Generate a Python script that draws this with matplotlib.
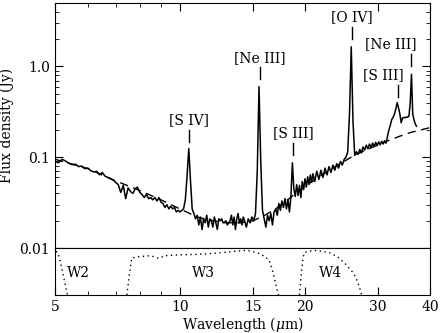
import numpy as np
import matplotlib
matplotlib.use('Agg')
from matplotlib import pyplot as plt
from matplotlib.ticker import FixedLocator, FixedFormatter, NullFormatter

plt.rcParams['font.family'] = 'DejaVu Serif'
plt.rcParams['mathtext.fontset'] = 'dejavuserif'
plt.rcParams['font.size'] = 10

# short-low part of the spectrum (um, Jy)
wave_sl = [5.0, 5.1, 5.2, 5.3, 5.4, 5.5, 5.6, 5.7, 5.8, 5.9,
           6.0, 6.1, 6.2, 6.3, 6.4, 6.5, 6.6, 6.7, 6.8, 6.9,
           7.0, 7.1, 7.2, 7.3, 7.4, 7.5, 7.6, 7.7, 7.8, 7.9,
           8.0, 8.1, 8.2, 8.3, 8.4, 8.5, 8.6, 8.7, 8.8, 8.9,
           9.0, 9.1, 9.2, 9.3, 9.4, 9.5, 9.6, 9.7, 9.8, 9.9,
           10.0, 10.1, 10.2, 10.3, 10.4, 10.5, 10.6, 10.7, 10.8, 10.9,
           11.0, 11.1, 11.2, 11.3, 11.4, 11.5, 11.6, 11.7, 11.8, 11.9,
           12.0, 12.1, 12.2, 12.3, 12.4, 12.5, 12.6, 12.7, 12.8, 12.9,
           13.0, 13.1, 13.2, 13.3, 13.4, 13.5, 13.6, 13.7, 13.8, 13.9,
           14.0, 14.1, 14.2]
flux_sl = [0.090, 0.087, 0.095, 0.091, 0.086, 0.083, 0.084, 0.079, 0.080, 0.075,
           0.076, 0.071, 0.069, 0.070, 0.064, 0.068, 0.062, 0.060, 0.058, 0.056,
           0.053, 0.050, 0.041, 0.049, 0.035, 0.046, 0.042, 0.040, 0.045, 0.047,
           0.041, 0.039, 0.036, 0.039, 0.035, 0.036, 0.034, 0.036, 0.033, 0.036,
           0.032, 0.031, 0.028, 0.030, 0.027, 0.029, 0.027, 0.028, 0.025, 0.026,
           0.025, 0.026, 0.027, 0.034, 0.062, 0.125, 0.055, 0.027, 0.024, 0.021,
           0.023, 0.018, 0.022, 0.016, 0.021, 0.019, 0.023, 0.017, 0.021, 0.020,
           0.017, 0.022, 0.019, 0.016, 0.021, 0.020, 0.021, 0.019, 0.019, 0.020,
           0.018, 0.019, 0.020, 0.023, 0.018, 0.022, 0.016, 0.021, 0.024, 0.019,
           0.021, 0.018, 0.022]

# long-low part
wave_ll = [14.30, 14.45, 14.60, 14.75, 14.90, 15.05, 15.20, 15.35, 15.50, 15.65,
           15.80, 15.95, 16.10, 16.25, 16.40, 16.55, 16.70, 16.85, 17.00, 17.15,
           17.30, 17.45, 17.60, 17.75, 17.90, 18.05, 18.20, 18.35, 18.50, 18.65,
           18.80, 18.95, 19.10, 19.25, 19.40, 19.55, 19.70, 19.85, 20.00, 20.15,
           20.30, 20.45, 20.60, 20.75, 20.90, 21.10, 21.35, 21.60, 21.85, 22.10,
           22.35, 22.60, 22.85, 23.10, 23.35, 23.60, 23.85, 24.10, 24.35, 24.60,
           24.85, 25.10, 25.35, 25.60, 25.85, 26.10, 26.35, 26.60, 26.85, 27.10,
           27.35, 27.60, 27.85, 28.10, 28.35, 28.60, 28.85, 29.10, 29.35, 29.60,
           29.85, 30.10, 30.35, 30.60, 30.85, 31.10, 31.35, 31.60, 31.85, 32.10,
           32.35, 32.60, 32.85, 33.10, 33.35, 33.60, 33.85, 34.10, 34.35, 34.60,
           34.85, 35.10, 35.35, 35.60, 35.85, 36.10, 36.35, 36.60, 36.85, 37.10]
flux_ll = [0.020, 0.017, 0.021, 0.019, 0.022, 0.020, 0.024, 0.070, 0.600, 0.090,
           0.026, 0.021, 0.017, 0.023, 0.020, 0.024, 0.018, 0.025, 0.027, 0.023,
           0.031, 0.026, 0.033, 0.028, 0.035, 0.027, 0.034, 0.025, 0.037, 0.087,
           0.045, 0.037, 0.050, 0.038, 0.049, 0.036, 0.054, 0.044, 0.058, 0.047,
           0.061, 0.050, 0.064, 0.053, 0.066, 0.054, 0.070, 0.057, 0.072, 0.060,
           0.076, 0.064, 0.079, 0.068, 0.082, 0.072, 0.085, 0.076, 0.090, 0.082,
           0.095, 0.100, 0.115, 0.300, 1.650, 0.250, 0.105, 0.115, 0.108, 0.122,
           0.112, 0.130, 0.120, 0.136, 0.124, 0.140, 0.128, 0.143, 0.131, 0.146,
           0.134, 0.148, 0.137, 0.150, 0.140, 0.152, 0.143, 0.170, 0.200, 0.225,
           0.260, 0.275, 0.300, 0.340, 0.400, 0.350, 0.300, 0.240, 0.270, 0.275,
           0.272, 0.278, 0.276, 0.285, 0.400, 0.820, 0.300, 0.260, 0.235, 0.220]

# continuum fit (dashed)
cont_wave = [5.0, 6.0, 7.0, 8.0, 9.0, 10.0, 11.0, 12.0, 13.0, 14.0, 15.0, 16.0,
             17.0, 18.0, 19.0, 20.0, 22.0, 24.0, 26.0, 28.0, 30.0, 32.0, 34.0,
             36.0, 38.0, 40.0]
cont_flux = [0.095, 0.075, 0.055, 0.043, 0.034, 0.027, 0.022, 0.020, 0.019, 0.019,
             0.020, 0.023, 0.027, 0.033, 0.040, 0.048, 0.064, 0.082, 0.102, 0.120,
             0.137, 0.155, 0.172, 0.188, 0.200, 0.212]

# WISE filter curves (relative response)
w2_wave = [4.9, 5.0, 5.08, 5.15, 5.22, 5.3, 5.36]
w2_resp = [1.0, 0.99, 0.95, 0.75, 0.5, 0.2, 0.0]
w3_wave = [7.45, 7.55, 7.65, 8.0, 8.5, 8.9, 9.2, 10.0, 11.0, 12.0, 13.0, 14.0,
           14.5, 15.0, 15.5, 16.0, 16.4, 16.7, 16.9, 17.1, 17.25]
w3_resp = [0.0, 0.45, 0.83, 0.86, 0.88, 0.82, 0.88, 0.90, 0.91, 0.93, 0.96, 0.99,
           1.0, 0.97, 0.93, 0.86, 0.78, 0.55, 0.35, 0.15, 0.0]
w4_wave = [19.4, 19.6, 19.8, 20.0, 21.0, 22.0, 23.0, 24.0, 25.0, 26.0, 26.5,
           27.0, 27.4]
w4_resp = [0.0, 0.5, 0.85, 0.96, 1.0, 0.98, 0.94, 0.85, 0.7, 0.52, 0.4, 0.2, 0.0]

# line identifications: label, wavelength, tick bottom, tick top, text alignment
line_ids = [('[S IV]', 10.51, 0.148, 0.201, 'center'),
            ('[Ne III]', 15.55, 0.72, 0.975, 'center'),
            ('[S III]', 18.71, 0.106, 0.144, 'center'),
            ('[O IV]', 25.89, 1.99, 2.70, 'center'),
            ('[S III]', 33.48, 0.466, 0.632, 'right'),
            ('[Ne III]', 36.01, 1.0, 1.36, 'right')]

fig = plt.figure(figsize=(4.41, 3.33), dpi=100)
ax = fig.add_axes([0.1247, 0.255, 0.8503, 0.736])
axb = fig.add_axes([0.1247, 0.114, 0.8503, 0.141], sharex=ax)

ax.plot(wave_sl + wave_ll, flux_sl + flux_ll, color='k', lw=1.1)
ax.plot(cont_wave, cont_flux, color='k', lw=1.0, ls='--', dashes=(6, 4))

ax.set_xscale('log')
ax.set_yscale('log')
ax.set_xlim(5, 40)
ax.set_ylim(0.01, 5)
ax.yaxis.set_major_locator(FixedLocator([0.01, 0.1, 1.0]))
ax.yaxis.set_major_formatter(FixedFormatter(['0.01', '0.1', '1.0']))
ax.set_ylabel('Flux density (Jy)')

for lab, lw_, y0, y1, ha in line_ids:
    ax.plot([lw_, lw_], [y0, y1], color='k', lw=1.0)
    if ha == 'right':
        ax.annotate(lab, (lw_, y1), xytext=(4, 2), textcoords='offset points',
                    ha='right', va='bottom')
    else:
        ax.annotate(lab, (lw_, y1), xytext=(0, 2), textcoords='offset points',
                    ha='center', va='bottom')

ax.tick_params(which='both', direction='in', top=True, right=True,
               bottom=False, labelbottom=False)
ax.tick_params(which='major', length=6)
ax.tick_params(which='minor', length=3)

# filter panel
for fw, fr in [(w2_wave, w2_resp), (w3_wave, w3_resp), (w4_wave, w4_resp)]:
    axb.plot(fw, fr, color='k', lw=1.0, ls=(0, (1, 2.5)))
axb.text(5.35, 0.5, 'W2', va='center')
axb.text(11.4, 0.5, 'W3', va='center', ha='center')
axb.text(23.1, 0.5, 'W4', va='center', ha='center')
axb.set_ylim(0, 1.05)
axb.set_yticks([])
axb.xaxis.set_major_locator(FixedLocator([5, 10, 15, 20, 30, 40]))
axb.xaxis.set_major_formatter(FixedFormatter(['5', '10', '15', '20', '30', '40']))
axb.xaxis.set_minor_locator(FixedLocator([6, 7, 8, 9]))
axb.xaxis.set_minor_formatter(NullFormatter())
axb.tick_params(which='both', direction='in', top=False)
axb.tick_params(which='major', length=6)
axb.tick_params(which='minor', length=3)
axb.set_xlabel(r'Wavelength ($\mu$m)', labelpad=1)

ax.xaxis.set_major_locator(FixedLocator([5, 10, 15, 20, 30, 40]))
ax.xaxis.set_minor_locator(FixedLocator([6, 7, 8, 9]))

fig.savefig('out.png', dpi=100)
